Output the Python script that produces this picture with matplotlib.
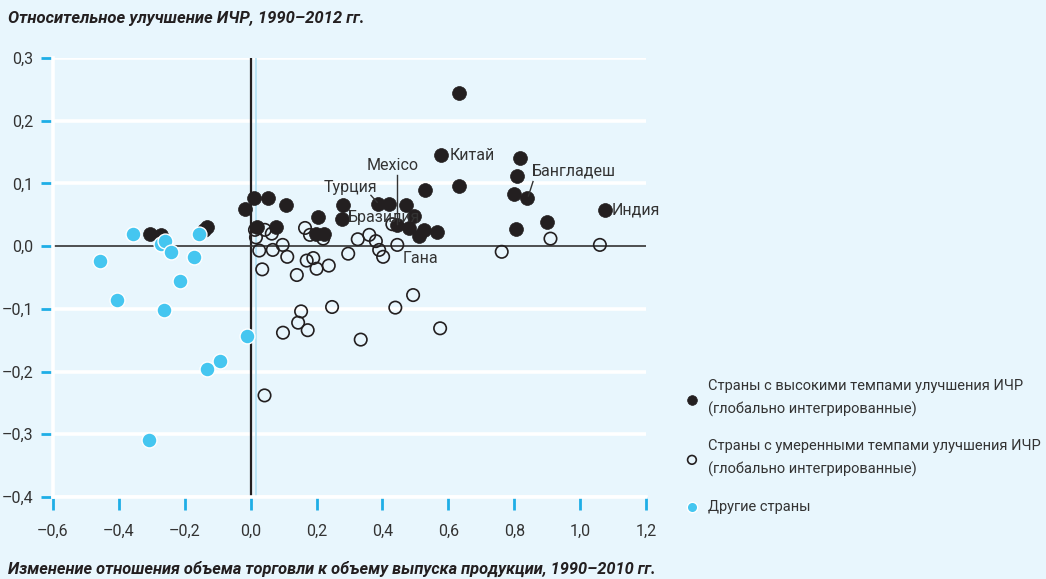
import numpy as np
import matplotlib
matplotlib.use("Agg")
import matplotlib.pyplot as plt

plt.rcParams['font.family'] = ['Roboto', 'DejaVu Sans']

# high HDI improvement (globally integrated)
high_x = [-0.306, -0.272, -0.142, -0.134, -0.017, 0.011, 0.052, 0.107, 0.020, 0.077,
          0.204, 0.281, 0.276, 0.198, 0.222, 0.387, 0.420, 0.472, 0.496, 0.445,
          0.481, 0.527, 0.510, 0.566, 0.529, 0.631, 0.632, 0.578, 0.818, 0.808,
          0.799, 0.839, 1.075, 0.899, 0.805]
high_y = [0.020, 0.018, 0.026, 0.031, 0.060, 0.076, 0.076, 0.066, 0.030, 0.030,
          0.047, 0.065, 0.044, 0.019, 0.019, 0.068, 0.068, 0.066, 0.048, 0.033,
          0.029, 0.026, 0.016, 0.022, 0.089, 0.096, 0.244, 0.145, 0.140, 0.112,
          0.083, 0.076, 0.057, 0.038, 0.027]

# moderate HDI improvement (globally integrated)
mod_x = [0.013, 0.043, 0.064, 0.016, 0.165, 0.180, 0.220, 0.325, 0.360, 0.380,
         0.390, 0.402, 0.445, 0.430, 0.026, 0.067, 0.097, 0.111, 0.035, 0.170,
         0.190, 0.200, 0.237, 0.140, 0.296, 0.762, 0.910, 1.060, 0.153, 0.144,
         0.173, 0.098, 0.247, 0.334, 0.439, 0.493, 0.575, 0.042]
mod_y = [0.026, 0.026, 0.020, 0.014, 0.029, 0.018, 0.012, 0.011, 0.018, 0.008,
         -0.006, -0.017, 0.002, 0.035, -0.007, -0.006, 0.002, -0.017, -0.037, -0.023,
         -0.019, -0.036, -0.031, -0.046, -0.012, -0.009, 0.012, 0.002, -0.104, -0.122,
         -0.134, -0.138, -0.097, -0.149, -0.098, -0.078, -0.131, -0.238]

# other countries
oth_x = [-0.356, -0.156, -0.273, -0.260, -0.242, -0.172, -0.215, -0.458, -0.407,
         -0.263, -0.010, -0.093, -0.134, -0.310]
oth_y = [0.020, 0.020, 0.003, 0.008, -0.009, -0.018, -0.056, -0.023, -0.086,
         -0.102, -0.144, -0.183, -0.196, -0.309]

xticks = [-0.6, -0.4, -0.2, 0.0, 0.2, 0.4, 0.6, 0.8, 1.0, 1.2]
yticks = [-0.4, -0.3, -0.2, -0.1, 0.0, 0.1, 0.2, 0.3]

bg = '#E8F6FD'
dark = '#231F20'
blue = '#45C6F0'
tickc = '#1EAEE6'
txt = '#333333'

fig = plt.figure(figsize=(10.46, 5.79), dpi=100, facecolor=bg)
ax = fig.add_axes([0.0507, 0.1416, 0.5669, 0.7582], facecolor=bg)
ax.set_xlim(-0.6, 1.2)
ax.set_ylim(-0.4, 0.3)

# white grid
for yv in yticks:
    if yv != 0:
        ax.axhline(yv, color='white', lw=2.6, zorder=1)
ax.axvline(0.015, color='#B3E2F5', lw=1.2, zorder=1.5)
ax.axvline(0, color=dark, lw=1.6, zorder=2)
ax.axhline(0, color=txt, lw=1.2, zorder=2)

ax.scatter(mod_x, mod_y, s=80, facecolor='none', edgecolor=dark, linewidth=1.2,
           zorder=3, label='Страны с умеренными темпами улучшения ИЧР\n(глобально интегрированные)')
ax.scatter(high_x, high_y, s=100, facecolor=dark, edgecolor=dark, linewidth=0.5,
           zorder=4, label='Страны с высокими темпами улучшения ИЧР\n(глобально интегрированные)')
ax.scatter(oth_x, oth_y, s=115, facecolor=blue, edgecolor='white', linewidth=1.0,
           zorder=5, label='Другие страны')

for s in ['top', 'right']:
    ax.spines[s].set_visible(False)
for s in ['left', 'bottom']:
    ax.spines[s].set_color('white')
    ax.spines[s].set_linewidth(2.6)

ax.set_xticks(xticks)
ax.set_yticks(yticks)
ax.set_xticklabels([f"{v:.1f}".replace('.', ',').replace('-', '–') for v in xticks])
ax.set_yticklabels([f"{v:.1f}".replace('.', ',').replace('-', '–') for v in yticks])
ax.tick_params(axis='both', colors=tickc, labelcolor=txt, labelsize=11.5,
               length=9, width=2)
ax.tick_params(axis='x', pad=10)
ax.tick_params(axis='y', pad=5)

# country labels
tk = dict(fontsize=11.5, color=txt, zorder=6)
ax.text(0.603, 0.145, 'Китай', va='center', ha='left', **tk)
ax.text(0.432, 0.129, 'Mexico', va='center', ha='center', **tk)
ax.plot([0.444, 0.444], [0.113, 0.035], color=txt, lw=1, zorder=6)
ax.text(0.304, 0.094, 'Турция', va='center', ha='center', **tk)
ax.plot([0.365, 0.384], [0.081, 0.070], color=txt, lw=1, zorder=6)
ax.text(0.295, 0.046, 'Бразилия', va='center', ha='left', **tk)
ax.text(0.854, 0.120, 'Бангладеш', va='center', ha='left', **tk)
ax.plot([0.857, 0.843], [0.103, 0.080], color=txt, lw=1, zorder=6)
ax.text(1.095, 0.057, 'Индия', va='center', ha='left', **tk)
ax.text(0.462, -0.019, 'Гана', va='center', ha='left', **tk)

fig.text(0.008, 0.968, 'Относительное улучшение ИЧР, 1990–2012 гг.',
         fontsize=12, fontweight='bold', fontstyle='italic', color=dark,
         va='center', ha='left')
fig.text(0.008, 0.018, 'Изменение отношения объема торговли к объему выпуска продукции, 1990–2010 гг.',
         fontsize=11.8, fontweight='bold', fontstyle='italic', color=dark,
         va='center', ha='left')

h, l = ax.get_legend_handles_labels()
order = [1, 0, 2]
leg = fig.legend([h[i] for i in order], [l[i] for i in order],
                 loc='upper left', bbox_to_anchor=(0.642, 0.368), frameon=False,
                 fontsize=10.5, labelspacing=1.55, handletextpad=0.6,
                 markerscale=0.7, handlelength=1.0)
for t in leg.get_texts():
    t.set_color(txt)
    t.set_linespacing(1.7)

fig.savefig('out.png', dpi=100, facecolor=bg)
